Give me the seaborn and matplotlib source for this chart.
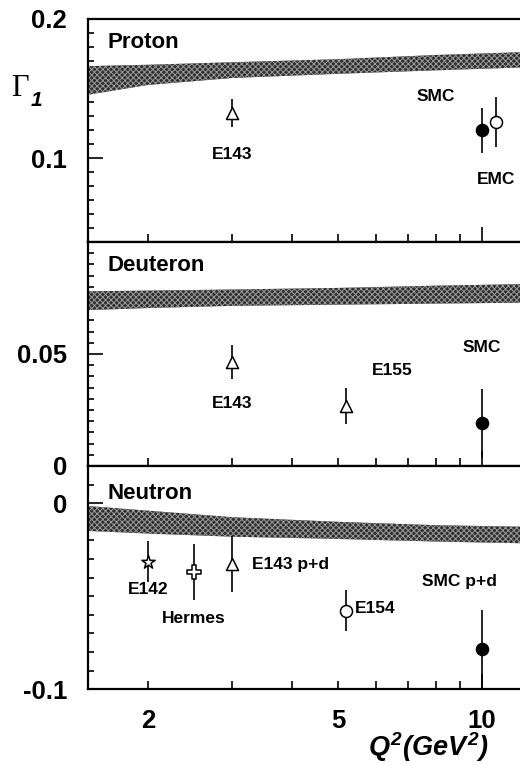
import numpy as np
import matplotlib
matplotlib.use('Agg')
import matplotlib.pyplot as plt
import seaborn as sns

sns.set_style('ticks')
plt.rcParams['font.family'] = ['Liberation Sans', 'DejaVu Sans']
plt.rcParams['font.weight'] = 'bold'
plt.rcParams['mathtext.fontset'] = 'custom'
plt.rcParams['mathtext.rm'] = 'Liberation Sans:bold:italic'
plt.rcParams['mathtext.it'] = 'Liberation Sans:bold:italic'
plt.rcParams['hatch.linewidth'] = 0.7
for k in ['text.color', 'axes.edgecolor', 'xtick.color', 'ytick.color', 'axes.labelcolor']:
    plt.rcParams[k] = 'black'

# theory bands (Q^2 grid, lower / upper edge)
q2_band = [1.5, 2, 3, 5, 8, 12]
proton_lo = [0.1455, 0.1525, 0.1575, 0.1605, 0.163, 0.165]
proton_hi = [0.166, 0.167, 0.1688, 0.171, 0.174, 0.176]
deuteron_lo = [0.0696, 0.0705, 0.0715, 0.0720, 0.0725, 0.0729]
deuteron_hi = [0.0780, 0.0783, 0.0788, 0.0795, 0.0805, 0.0812]
neutron_lo = [-0.0149, -0.0163, -0.0180, -0.0192, -0.0206, -0.0215]
neutron_hi = [-0.0015, -0.0040, -0.0075, -0.0100, -0.0118, -0.0126]

# data points
proton_q2 = [3.0, 10.0, 10.7]
proton_g1 = [0.1324, 0.120, 0.126]
proton_err = [0.010, 0.016, 0.018]
proton_mk = ['^', 'o', 'o']
proton_fill = ['white', 'black', 'white']

deuteron_q2 = [3.0, 5.2, 10.0]
deuteron_g1 = [0.0463, 0.0268, 0.019]
deuteron_err = [0.0075, 0.008, 0.0155]
deuteron_mk = ['^', '^', 'o']
deuteron_fill = ['white', 'white', 'black']

neutron_q2 = [2.0, 2.5, 3.0, 5.2, 10.0]
neutron_g1 = [-0.0314, -0.0371, -0.0327, -0.0579, -0.0784]
neutron_err = [0.011, 0.015, 0.0152, 0.011, 0.0212]
neutron_mk = ['*', 'P', '^', 'o', 'o']
neutron_fill = ['white', 'white', 'white', 'white', 'black']

# label text, position, alignment
proton_labels = [('E143', 3.0, 0.1027, 'center'), ('SMC', 8.0, 0.1441, 'center'),
                 ('EMC', 10.7, 0.0848, 'center')]
deuteron_labels = [('E143', 3.0, 0.028, 'center'), ('E155', 6.5, 0.0426, 'center'),
                   ('SMC', 10.0, 0.053, 'center')]
neutron_labels = [('E142', 2.0, -0.0466, 'center'), ('Hermes', 2.5, -0.0619, 'center'),
                  ('E143 p+d', 3.3, -0.0332, 'left'), ('E154', 5.43, -0.0565, 'left'),
                  ('SMC p+d', 8.98, -0.0422, 'center')]

panels = [
    dict(name='Proton', name_y=0.1826, ylim=(0.04, 0.2), major=[0.1, 0.2], major_lab=['0.1', '0.2'],
         minor=np.arange(0.04, 0.2001, 0.01), lo=proton_lo, hi=proton_hi,
         q2=proton_q2, g1=proton_g1, err=proton_err, mk=proton_mk, fill=proton_fill, labels=proton_labels),
    dict(name='Deuteron', name_y=0.0893, ylim=(0.0, 0.1), major=[0.0, 0.05], major_lab=['0', '0.05'],
         minor=np.arange(0.0, 0.1001, 0.005), lo=deuteron_lo, hi=deuteron_hi,
         q2=deuteron_q2, g1=deuteron_g1, err=deuteron_err, mk=deuteron_mk, fill=deuteron_fill, labels=deuteron_labels),
    dict(name='Neutron', name_y=0.0054, ylim=(-0.1, 0.02), major=[-0.1, 0.0], major_lab=['-0.1', '0'],
         minor=np.arange(-0.1, 0.0201, 0.01), lo=neutron_lo, hi=neutron_hi,
         q2=neutron_q2, g1=neutron_g1, err=neutron_err, mk=neutron_mk, fill=neutron_fill, labels=neutron_labels),
]

fig = plt.figure(figsize=(5.2, 7.65), dpi=100)
left, width = 88 / 520, 1 - 88 / 520
tops = [18.7, 242, 466]
bots = [242, 466, 689.3]

mk_size = {'^': 75, 'o': 75, '*': 100, 'P': 90}

for i, p in enumerate(panels):
    ax = fig.add_axes([left, 1 - bots[i] / 765, width, (bots[i] - tops[i]) / 765])
    ax.set_xscale('log')
    ax.set_xlim(1.5, 12)
    ax.set_ylim(*p['ylim'])

    ax.fill_between(q2_band, p['lo'], p['hi'], facecolor='#2e2e2e', edgecolor='#9c9c9c',
                    hatch='xxxxxx', linewidth=0, zorder=1)

    ax.errorbar(p['q2'], p['g1'], yerr=p['err'], fmt='none', ecolor='black',
                elinewidth=1.2, capsize=0, zorder=2)
    for x, y, m, f in zip(p['q2'], p['g1'], p['mk'], p['fill']):
        sns.scatterplot(x=[x], y=[y], marker=m, s=mk_size[m], color=f, edgecolor='black',
                        linewidth=1.1, ax=ax, zorder=3)

    ax.text(0.046, p['name_y'], p['name'], transform=ax.get_yaxis_transform(),
            fontsize=16, fontweight='bold', va='center', ha='left')
    for txt, x, y, ha in p['labels']:
        ax.text(x, y, txt, fontsize=12.5, fontweight='bold', ha=ha, va='center')

    ax.set_yticks(p['major'], labels=p['major_lab'])
    ax.set_yticks(p['minor'], minor=True)
    ax.set_xticks([10], labels=['10'] if i == 2 else [''])
    ax.set_xticks([2, 3, 4, 5, 6, 7, 8, 9],
                  labels=(['2', '', '', '5', '', '', '', ''] if i == 2 else [''] * 8), minor=True)
    ax.tick_params(axis='both', which='both', direction='in', labelsize=18.5, width=1.2)
    ax.tick_params(axis='y', which='major', length=11, pad=15)
    ax.tick_params(axis='y', which='minor', length=4)
    ax.tick_params(axis='x', which='major', length=11, pad=14)
    ax.tick_params(axis='x', which='minor', length=6, pad=14)
    for lab in ax.get_xticklabels(which='both') + ax.get_yticklabels():
        lab.set_fontweight('bold')
    ax.spines['right'].set_visible(False)
    for s in ['left', 'top', 'bottom']:
        ax.spines[s].set_linewidth(1.6)
    ax.set_xlabel('')
    ax.set_ylabel('')

fig.text(20 / 520, 1 - 88 / 765, '\u0393', family=['Liberation Serif', 'DejaVu Serif'],
         fontsize=22, fontweight='normal', ha='center', va='center')
fig.text(36 / 520, 1 - 101 / 765, '1', fontsize=15, fontweight='bold', fontstyle='italic',
         ha='center', va='center')
fig.text(489 / 520, 1 - 747 / 765, r'$Q^2(GeV^2)$', fontsize=19.5, ha='right', va='center')

fig.savefig('out.png', dpi=100)
